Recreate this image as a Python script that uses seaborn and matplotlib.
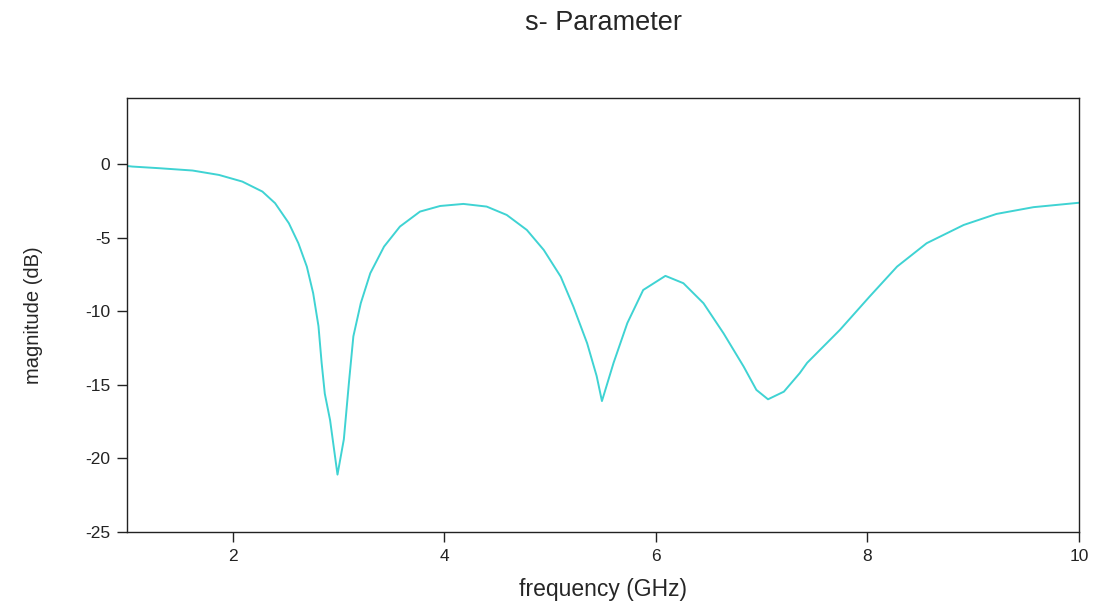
import matplotlib
matplotlib.use("Agg")
import matplotlib.pyplot as plt
import seaborn as sns
import pandas as pd

freq_ghz = [1.00, 1.05, 1.30, 1.62, 1.87, 2.09, 2.28, 2.40, 2.53, 2.62, 2.70, 2.76, 2.81,
            2.84, 2.87, 2.92, 2.99, 3.05, 3.10, 3.14, 3.21, 3.30, 3.43, 3.58, 3.77, 3.96,
            4.18, 4.40, 4.59, 4.78, 4.94, 5.10, 5.22, 5.35, 5.44, 5.49, 5.60, 5.73, 5.88,
            6.09, 6.26, 6.45, 6.64, 6.83, 6.95, 7.06, 7.21, 7.36, 7.43, 7.74, 8.02, 8.28,
            8.56, 8.91, 9.22, 9.57, 10.00]
magnitude_db = [-0.12, -0.16, -0.27, -0.43, -0.73, -1.18, -1.86, -2.65, -4.01, -5.37, -6.96, -8.77, -11.0,
                -13.5, -15.6, -17.4, -21.1, -18.7, -14.7, -11.7, -9.45, -7.41, -5.6, -4.24, -3.22, -2.84,
                -2.70, -2.88, -3.45, -4.47, -5.83, -7.64, -9.68, -12.17, -14.4, -16.1, -13.5, -10.8, -8.55,
                -7.59, -8.09, -9.45, -11.5, -13.76, -15.34, -15.98, -15.46, -14.2, -13.5, -11.26, -9.0, -6.96,
                -5.37, -4.13, -3.38, -2.92, -2.62]

df = pd.DataFrame({"freq": freq_ghz, "mag": magnitude_db})

sns.set_style("white")
plt.rcParams["font.family"] = ["Liberation Sans", "DejaVu Sans"]
plt.rcParams["axes.unicode_minus"] = False

fig = plt.figure(figsize=(10.99, 6.10), dpi=100)
ax = fig.add_axes([127/1099, 1-532/610, (1079-127)/1099, (532-98)/610])
sns.lineplot(data=df, x="freq", y="mag", ax=ax, color="#3fd3d3", linewidth=1.4)

ax.set_xlim(1, 10)
ax.set_ylim(-25, 4.5)
ax.set_xticks([2, 4, 6, 8, 10])
ax.set_yticks([0, -5, -10, -15, -20, -25])
ax.tick_params(axis="both", direction="out", length=7, width=1, colors="#222222",
               labelsize=12.5, bottom=True, left=True, top=False, right=False, pad=5)
for s in ax.spines.values():
    s.set_color("#222222")
    s.set_linewidth(1.0)
ax.set_xlabel("frequency (GHz)", fontsize=16.5)
ax.set_ylabel("magnitude (dB)", fontsize=14.5)
ax.xaxis.set_label_coords(0.5, -0.105)
ax.yaxis.set_label_coords(-0.088, 0.5)
fig.text(603/1099, 1-23/610, "s- Parameter", ha="center", va="center", fontsize=19.5)

fig.savefig("out.png", dpi=100)
